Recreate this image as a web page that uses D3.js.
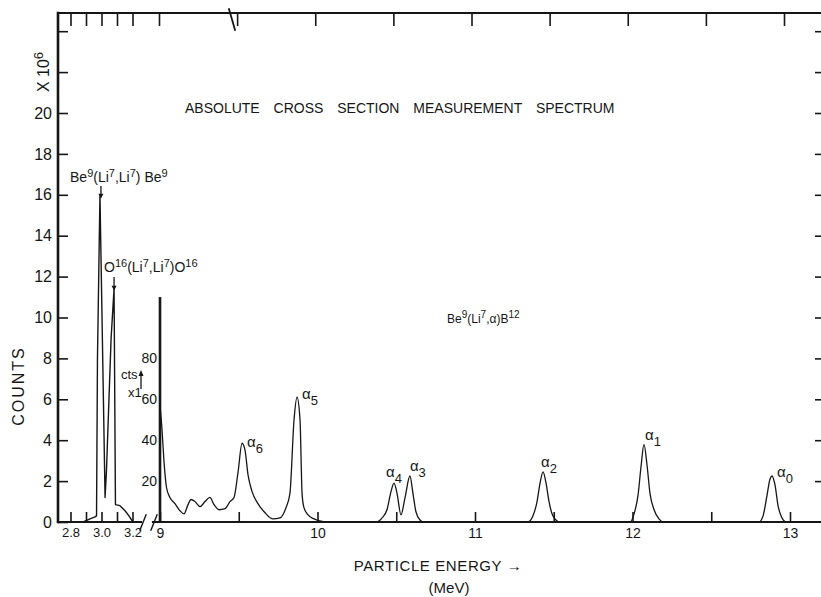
<!DOCTYPE html>
<html>
<head>
<meta charset="utf-8">
<script src="https://cdn.jsdelivr.net/npm/d3@7"></script>
<style>
  body { margin: 0; background: #fff; }
  svg { display: block; }
  text { fill: #161616; font-family: "Liberation Sans", Arial, sans-serif; }
</style>
</head>
<body>
<svg id="chart" width="821" height="597"></svg>
<script>
// Low-energy window: Be9 and O16 elastic peaks (counts x 10^6)
const lowEnergy = [2.881, 2.926, 2.958, 2.968, 2.974, 2.990, 3.023, 3.032, 3.062, 3.081, 3.090, 3.119, 3.152, 3.177, 3.203];
const lowCounts = [0, 0.15, 0.25, 0.3, 8, 16, 1.2, 2.5, 9, 11.4, 0.85, 0.8, 0.55, 0.3, 0];

// Alpha-particle region, 9 - 13.2 MeV (counts x 1)
const highEnergy = [
  9.000, 9.013, 9.025, 9.041, 9.063, 9.095, 9.127, 9.152, 9.178, 9.197,
  9.222, 9.254, 9.286, 9.317, 9.343, 9.375, 9.413, 9.444, 9.470, 9.495,
  9.521, 9.540, 9.559, 9.584, 9.622, 9.667, 9.717, 9.762, 9.800, 9.825,
  9.851, 9.870, 9.889, 9.902, 9.914, 9.940, 9.978, 10.029, 10.080,
  10.371, 10.410, 10.441, 10.467, 10.486, 10.505, 10.530, 10.556, 10.587, 10.606, 10.625, 10.651, 10.676,
  11.337, 11.368, 11.394, 11.413, 11.432, 11.451, 11.470, 11.489, 11.514, 11.540,
  11.984, 12.010, 12.035, 12.054, 12.073, 12.092, 12.111, 12.137, 12.168, 12.194,
  12.803, 12.829, 12.854, 12.873, 12.886, 12.905, 12.924, 12.943, 12.975, 13.200
];
const highCounts = [
  57, 45, 30, 17, 12, 9, 5.5, 4, 8.5, 11,
  10, 7.5, 10, 12, 8.5, 6, 6.5, 10, 12, 24,
  38.5, 35, 23, 15, 9, 4.5, 1.5, 2, 7, 14,
  50, 61, 50, 14, 7, 3.5, 1.5, 0.3, 0,
  0, 2, 6, 15, 19, 14, 3.5, 12, 22.5, 14, 5, 1, 0,
  0, 3, 10, 19, 24.5, 19, 10, 4, 1, 0,
  0, 4, 13, 27, 38, 28, 14, 6, 1.5, 0,
  0, 3, 13, 21, 22.5, 18, 8, 3, 0, 0
];
// Truncated rise at the 9 MeV edge (counts x 1)
const edgeCount = 110;

// Alpha groups: subscript, energy (MeV), peak counts
const peakIndex = ["6", "5", "4", "3", "2", "1", "0"];
const peakEnergy = [9.521, 9.870, 10.486, 10.587, 11.432, 12.073, 12.886];
const peakCounts = [38.5, 61, 19, 22.5, 24.5, 38, 22.5];
const peakLabelShift = [[5, 4], [5, 2], [-8, -6], [0, -5], [-2, -5], [1, -4], [5, 1]];

// Elastic-scattering markers: energy (MeV), peak counts (x 10^6)
const elasticEnergy = [2.990, 3.081];
const elasticCounts = [16, 11.4];

// Ticks
const countTickValues = [0, 2, 4, 6, 8, 10, 12, 14, 16, 18, 20, 22, 24];
const countLabelMax = 20;
const lowTicks = [2.8, 2.9, 3.0, 3.1, 3.2];
const lowLabels = ["2.8", "3.0", "3.2"];
const highTicks = [9, 9.5, 10, 10.5, 11, 11.5, 12, 12.5, 13];
const highLabels = [9, 10, 11, 12, 13];
const ctsTicks = [20, 40, 60, 80];

const svg = d3.select("#chart");
const ink = "#161616";

// Frame edges
const frameL = 58, frameR = 821, frameT = 13, frameB = 522;

const yM = d3.scaleLinear().domain([0, 20]).range([frameB, 113]);     // x 10^6
const yC = d3.scaleLinear().domain([0, 200]).range([frameB, 113]);    // x 1
const xL = d3.scaleLinear().domain([2.8, 3.2]).range([70.5, 132.5]);
const xR = d3.scaleLinear().domain([9, 13]).range([160, 790]);
// the top edge is ruled a little shorter than the bottom one
const xTop = d3.scaleLinear().domain([9, 13]).range([159, 784]);

function styleAxis(g, size) {
  g.select(".domain").remove();
  g.attr("font-family", null).attr("font-size", null);
  g.selectAll("line").attr("stroke", ink).attr("stroke-width", 1.6);
  g.selectAll("text").style("font-size", size + "px");
}

// Left count axis (x 10^6)
svg.append("g")
  .attr("transform", `translate(${frameL},0)`)
  .call(d3.axisLeft(yM).tickValues(countTickValues).tickSizeInner(-10).tickSizeOuter(0)
    .tickPadding(6).tickFormat(d => d <= countLabelMax ? d : ""))
  .call(g => styleAxis(g, 16));

// Right-hand ticks
svg.append("g")
  .attr("transform", `translate(${frameR + 6},0)`)
  .call(d3.axisRight(yM).tickValues(countTickValues.slice(1)).tickSizeInner(-12).tickSizeOuter(0).tickFormat(""))
  .call(g => styleAxis(g, 12));

// Bottom axes
svg.append("g")
  .attr("transform", `translate(0,${frameB})`)
  .call(d3.axisBottom(xL).tickValues(lowTicks).tickSizeInner(-10).tickSizeOuter(0).tickPadding(6)
    .tickFormat(d => { const s = d3.format(".1f")(d); return lowLabels.includes(s) ? s : ""; }))
  .call(g => styleAxis(g, 13));

svg.append("g")
  .attr("transform", `translate(0,${frameB})`)
  .call(d3.axisBottom(xR).tickValues(highTicks).tickSizeInner(-10).tickSizeOuter(0).tickPadding(6)
    .tickFormat(d => highLabels.includes(d) ? d : ""))
  .call(g => styleAxis(g, 14));

// Top ticks
svg.append("g")
  .attr("transform", `translate(0,${frameT})`)
  .call(d3.axisTop(xL).tickValues(lowTicks).tickSizeInner(-13).tickSizeOuter(0).tickFormat(""))
  .call(g => styleAxis(g, 12));
svg.append("g")
  .attr("transform", `translate(0,${frameT})`)
  .call(d3.axisTop(xTop).tickValues(highTicks).tickSizeInner(-13).tickSizeOuter(0).tickFormat(""))
  .call(g => styleAxis(g, 12));

// Secondary count labels (x 1)
svg.append("g")
  .attr("transform", `translate(${xR(9)},0)`)
  .call(d3.axisLeft(yC).tickValues(ctsTicks).tickSize(0).tickPadding(3))
  .call(g => styleAxis(g, 14));

// Frame lines
const frame = svg.append("g").attr("stroke", ink).attr("fill", "none").attr("stroke-linecap", "square");
frame.append("line").attr("x1", frameL).attr("y1", frameT).attr("x2", frameL).attr("y2", frameB).attr("stroke-width", 2.6);
frame.append("line").attr("x1", frameL).attr("y1", frameT).attr("x2", frameR).attr("y2", frameT).attr("stroke-width", 2);
frame.append("line").attr("x1", frameL).attr("y1", frameB).attr("x2", 141).attr("y2", frameB).attr("stroke-width", 2.2);
frame.append("line").attr("x1", 153).attr("y1", frameB).attr("x2", frameR).attr("y2", frameB).attr("stroke-width", 2.2);
// Axis break marks
frame.append("line").attr("x1", 140).attr("y1", 530).attr("x2", 146).attr("y2", 515).attr("stroke-width", 1.4);
frame.append("line").attr("x1", 151).attr("y1", 530).attr("x2", 157).attr("y2", 515).attr("stroke-width", 1.4);
frame.append("line").attr("x1", 229).attr("y1", 9).attr("x2", 235).attr("y2", 30).attr("stroke-width", 1.8);

// Spectra
const lowData = lowEnergy.map((e, i) => ({ e, c: lowCounts[i] }));
const highData = highEnergy.map((e, i) => ({ e, c: highCounts[i] }));

svg.append("path")
  .datum(lowData)
  .attr("fill", "none").attr("stroke", ink).attr("stroke-width", 1.4).attr("stroke-linejoin", "round")
  .attr("d", d3.line().x(d => xL(d.e)).y(d => yM(d.c)).curve(d3.curveLinear));

svg.append("line")
  .attr("x1", xR(9)).attr("x2", xR(9)).attr("y1", yC(0)).attr("y2", yC(edgeCount))
  .attr("stroke", ink).attr("stroke-width", 2.6);

svg.append("path")
  .datum(highData)
  .attr("fill", "none").attr("stroke", ink).attr("stroke-width", 1.3).attr("stroke-linejoin", "round")
  .attr("d", d3.line().x(d => xR(d.e)).y(d => yC(d.c)).curve(d3.curveMonotoneX));

// Peak labels
peakIndex.forEach((sub, i) => {
  const t = svg.append("text")
    .attr("x", xR(peakEnergy[i]) + peakLabelShift[i][0])
    .attr("y", yC(peakCounts[i]) + peakLabelShift[i][1])
    .style("font-size", "15px");
  t.append("tspan").text("α");
  t.append("tspan").attr("dy", 6).style("font-size", "13px").text(sub);
});

// Reaction labels with superscripts
function richText(x, y, parts, size, supSize) {
  const t = svg.append("text").attr("x", x).attr("y", y).style("font-size", size + "px");
  let raised = false;
  parts.forEach(([s, sup]) => {
    const sp = t.append("tspan").text(s);
    if (sup && !raised) { sp.attr("dy", -5).style("font-size", supSize + "px"); raised = true; }
    else if (!sup && raised) { sp.attr("dy", 5); raised = false; }
  });
  return t;
}

richText(70, 182, [["Be"], ["9", 1], ["(Li"], ["7", 1], [",Li"], ["7", 1], [") Be"], ["9", 1]], 14, 11);
richText(104, 272, [["O"], ["16", 1], ["(Li"], ["7", 1], [",Li"], ["7", 1], [")O"], ["16", 1]], 14, 11);
richText(447, 323, [["Be"], ["9", 1], ["(Li"], ["7", 1], [",α)B"], ["12", 1]], 12, 10);

// Arrows pointing at the elastic peaks
function arrowDown(x, y1, y2) {
  svg.append("line").attr("x1", x).attr("x2", x).attr("y1", y1).attr("y2", y2 - 3)
    .attr("stroke", ink).attr("stroke-width", 1.3);
  svg.append("path").attr("d", `M${x - 2.5},${y2 - 5}L${x + 2.5},${y2 - 5}L${x},${y2}Z`).attr("fill", ink);
}
arrowDown(xL(elasticEnergy[0]) + 1, 186, yM(elasticCounts[0]) + 4);
arrowDown(xL(elasticEnergy[1]), 277, yM(elasticCounts[1]) + 2);

// "cts x1" note with upward arrow
svg.append("text").attr("x", 121).attr("y", 379).style("font-size", "13px").text("cts");
svg.append("text").attr("x", 128).attr("y", 397).style("font-size", "13px").text("x1");
svg.append("line").attr("x1", 141).attr("x2", 141).attr("y1", 389).attr("y2", 374)
  .attr("stroke", ink).attr("stroke-width", 1.3);
svg.append("path").attr("d", "M138.5,376L143.5,376L141,370Z").attr("fill", ink);

// Title
svg.append("text").attr("x", 185).attr("y", 113)
  .style("font-size", "14px").style("word-spacing", "10px")
  .text("ABSOLUTE CROSS SECTION MEASUREMENT SPECTRUM");

// Axis titles
svg.append("text").attr("transform", "translate(24,386) rotate(-90)")
  .attr("text-anchor", "middle").style("font-size", "16px").style("letter-spacing", "2px")
  .text("COUNTS");
const xt = svg.append("text").attr("transform", "translate(49,72) rotate(-90)")
  .attr("text-anchor", "middle").style("font-size", "16px");
xt.append("tspan").text("X 10");
xt.append("tspan").attr("dy", -6).style("font-size", "13px").text("6");

svg.append("text").attr("x", 438).attr("y", 571).attr("text-anchor", "middle")
  .style("font-size", "15px").style("letter-spacing", "0.6px").text("PARTICLE ENERGY →");
svg.append("text").attr("x", 449).attr("y", 593).attr("text-anchor", "middle")
  .style("font-size", "15px").text("(MeV)");
</script>
</body>
</html>
